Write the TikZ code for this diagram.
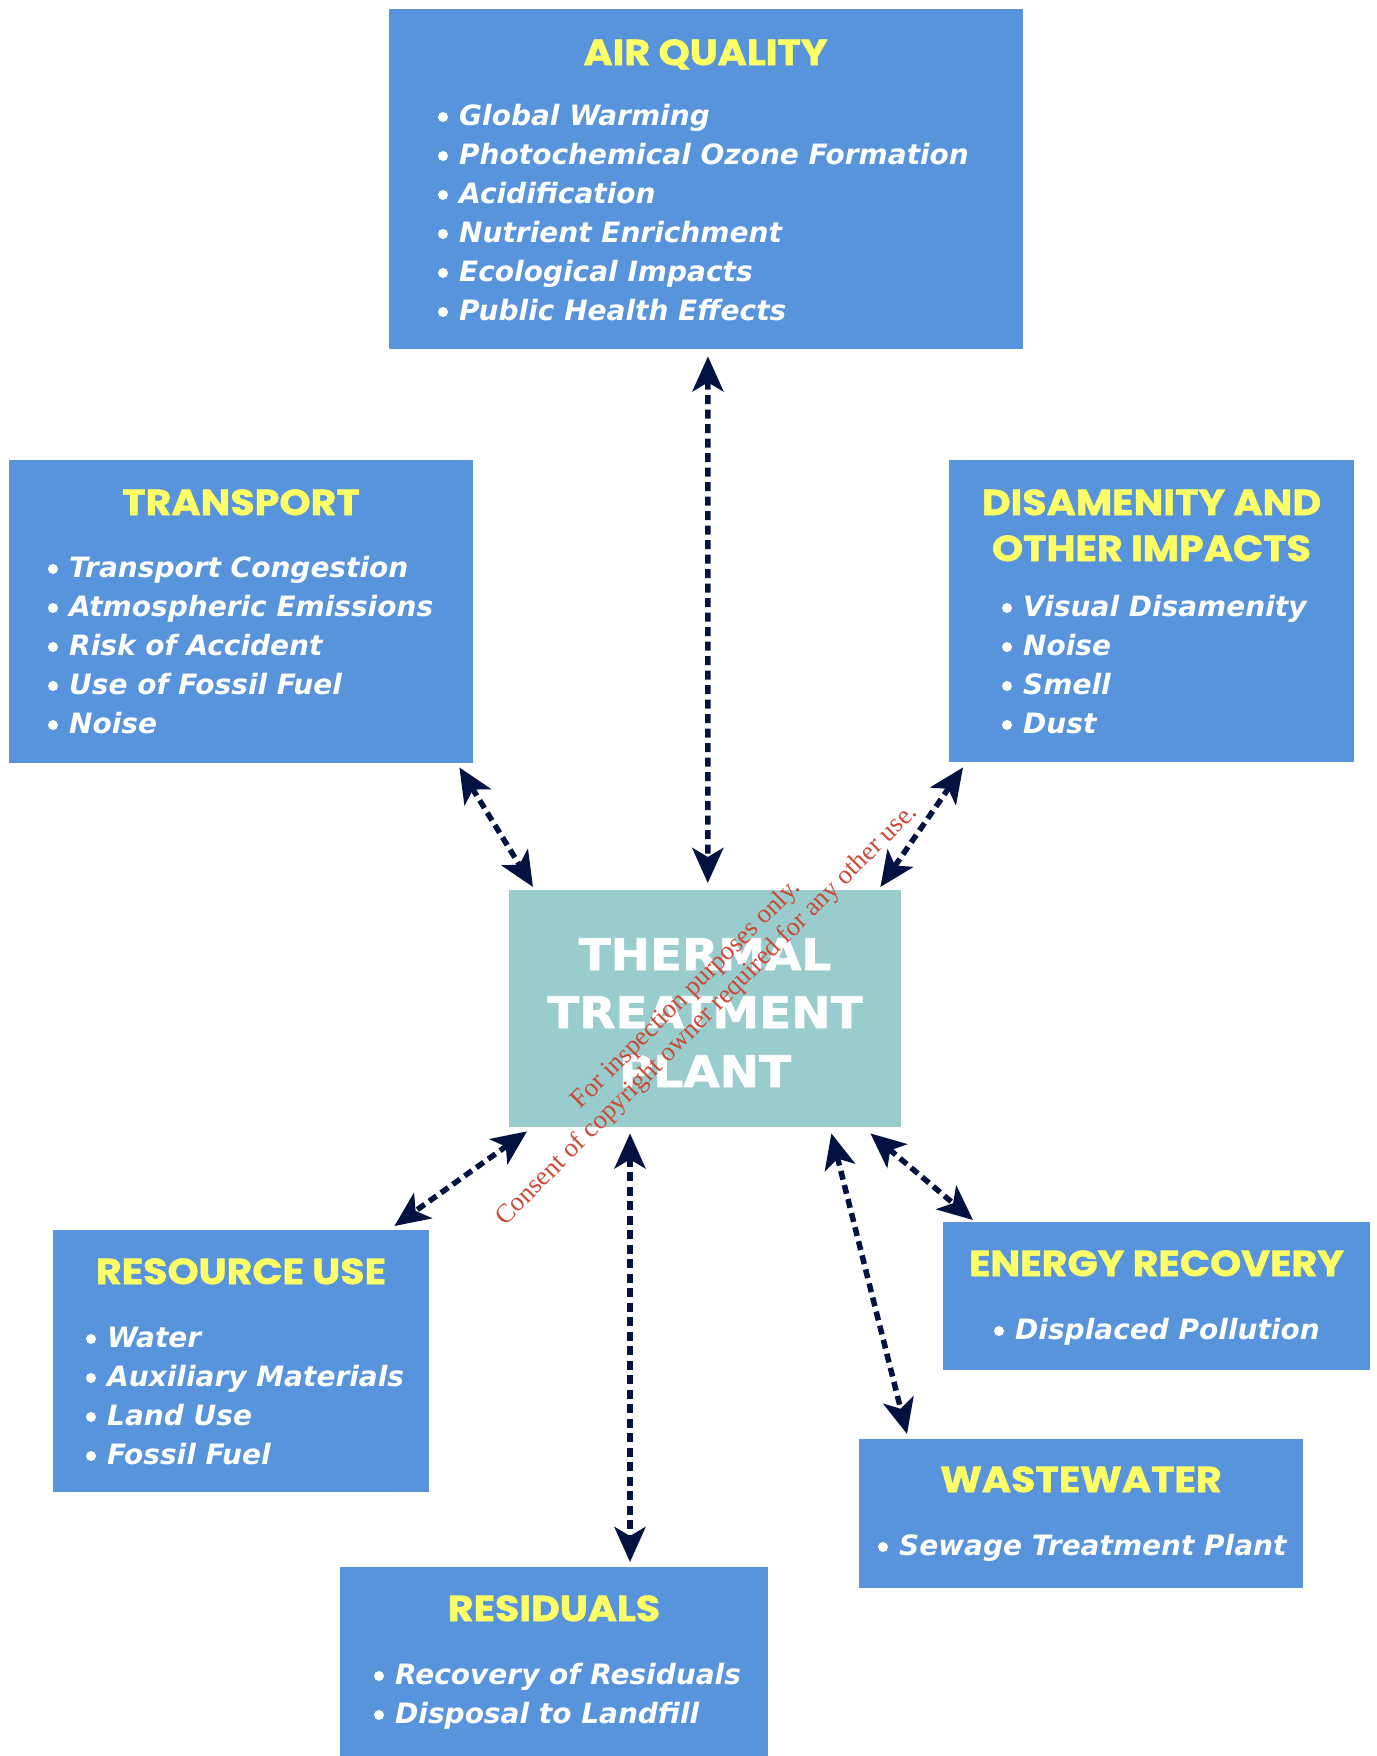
\documentclass[tikz,border=0pt]{standalone}
\usepackage{fontspec}
\usetikzlibrary{arrows.meta,calc}
\setmainfont{Liberation Serif}
\newfontfamily\bulfont{DejaVu Sans}
\newfontfamily\titlefont{Poppins}[FakeStretch=1.1,FakeBold=1.5]
\newfontfamily\ttpfont{DejaVu Sans}[FakeBold=1.5,FakeStretch=1.08]
\definecolor{boxblue}{RGB}{88,148,220}
\definecolor{ttyellow}{RGB}{255,255,102}
\definecolor{ttpteal}{RGB}{153,204,204}
\definecolor{navy}{RGB}{4,18,66}
\definecolor{wmred}{RGB}{204,74,53}
\newcommand\bitem[4]{\node[bul] (#1) at (#2,#3) {#4};\fill[white] (#2-16,#3-8) circle (5pt);}
\begin{document}
\begin{tikzpicture}[x=1pt,y=-1pt,
  box/.style={fill=boxblue,draw=none,inner sep=0pt,anchor=north west},
  ttl/.style={text=ttyellow,font=\titlefont\bfseries\fontsize{36}{40}\selectfont,anchor=base,inner sep=0pt},
  bul/.style={text=white,font=\bulfont\bfseries\itshape\fontsize{28}{39}\selectfont,anchor=base west,inner sep=0pt},
  ttpline/.style={text=white,font=\ttpfont\bfseries\fontsize{43.5}{58}\selectfont,anchor=base,inner sep=0pt},
  conn/.style={draw=navy,line width=5.5pt,dash pattern=on 9pt off 5.5pt,
     {Stealth[length=35pt,width=31pt,inset=9pt]}-{Stealth[length=35pt,width=31pt,inset=9pt]}},
  wm/.style={text=wmred,font=\fontsize{26.5}{29}\selectfont,align=center,rotate=45,inner sep=0pt}]
\useasboundingbox (0,0) rectangle (1376,1756);
\fill[white] (0,0) rectangle (1376,1756);
% boxes
\node[box,minimum width=634.5pt,minimum height=340pt] (aq) at (388.5,9) {};
\node[box,minimum width=463.5pt,minimum height=302.5pt] (tp) at (9,460) {};
\node[box,minimum width=405pt,minimum height=302pt] (dis) at (949,460) {};
\node[box,fill=ttpteal,minimum width=392pt,minimum height=237pt] (ttp) at (509,890) {};
\node[box,minimum width=376pt,minimum height=262pt] (ru) at (53,1230) {};
\node[box,minimum width=427pt,minimum height=148pt] (er) at (943,1222) {};
\node[box,minimum width=444pt,minimum height=149pt] (ww) at (859,1439) {};
\node[box,minimum width=428pt,minimum height=189pt] (rd) at (340,1567) {};
% air quality
\node[ttl] (aqt) at (705.5,65) {AIR QUALITY};
\bitem{aq1}{459}{125}{Global Warming}
\bitem{aq2}{459}{164}{Photochemical Ozone Formation}
\bitem{aq3}{459}{203}{Acidification}
\bitem{aq4}{459}{242}{Nutrient Enrichment}
\bitem{aq5}{459}{281}{Ecological Impacts}
\bitem{aq6}{459}{320}{Public Health Effects}
% transport
\node[ttl] (tpt) at (241,515) {TRANSPORT};
\bitem{tp1}{69}{577}{Transport Congestion}
\bitem{tp2}{69}{616}{Atmospheric Emissions}
\bitem{tp3}{69}{655}{Risk of Accident}
\bitem{tp4}{69}{694}{Use of Fossil Fuel}
\bitem{tp5}{69}{733}{Noise}
% disamenity
\node[ttl] (dist1) at (1151.5,515) {DISAMENITY AND};
\node[ttl] (dist2) at (1151.5,561) {OTHER IMPACTS};
\bitem{dis1}{1023}{616}{Visual Disamenity}
\bitem{dis2}{1023}{655}{Noise}
\bitem{dis3}{1023}{694}{Smell}
\bitem{dis4}{1023}{733}{Dust}
% thermal treatment plant
\node[ttpline] (ttp1) at (705,970) {THERMAL};
\node[ttpline] (ttp2) at (705,1028) {TREATMENT};
\node[ttpline] (ttp3) at (705,1087) {PLANT};
% resource use
\node[ttl] (rut) at (241,1284) {RESOURCE USE};
\bitem{ru1}{107}{1347}{Water}
\bitem{ru2}{107}{1386}{Auxiliary Materials}
\bitem{ru3}{107}{1425}{Land Use}
\bitem{ru4}{107}{1464}{Fossil Fuel}
% energy recovery
\node[ttl] (ert) at (1156.5,1276) {ENERGY RECOVERY};
\bitem{er1}{1015}{1339}{Displaced Pollution}
% wastewater
\node[ttl] (wwt) at (1081,1492) {WASTEWATER};
\bitem{ww1}{899}{1555}{Sewage Treatment Plant}
% residuals
\node[ttl] (rdt) at (554,1621) {RESIDUALS};
\bitem{rd1}{395}{1684}{Recovery of Residuals}
\bitem{rd2}{395}{1723}{Disposal to Landfill}
% connectors
\draw[conn] ($(aq.south)+(2,7)$) -- ($(ttp.north)+(2.6,-7)$);
\draw[conn] ($(tp.south east)+(-13.5,4.5)$) -- ($(ttp.north west)+(24,-3)$);
\draw[conn] ($(dis.south west)+(14,5)$) -- ($(ttp.north east)+(-21,-3)$);
\draw[conn] ($(ttp.south west)+(18,4)$) -- ($(ru.north east)+(-35,-4)$);
\draw[conn] ($(ttp.south west)+(121,6)$) -- ($(rd.north west)+(290,-5)$);
\draw[conn] ($(ttp.south east)+(-70,6)$) -- ($(ww.north west)+(48,-5)$);
\draw[conn] ($(ttp.south east)+(-31,6)$) -- ($(er.north west)+(30,-2)$);
% watermark
\node[wm] (wmk) at (697,1005) {For inspection purposes only.\\Consent of copyright owner required for any other use.};
\end{tikzpicture}
\end{document}
